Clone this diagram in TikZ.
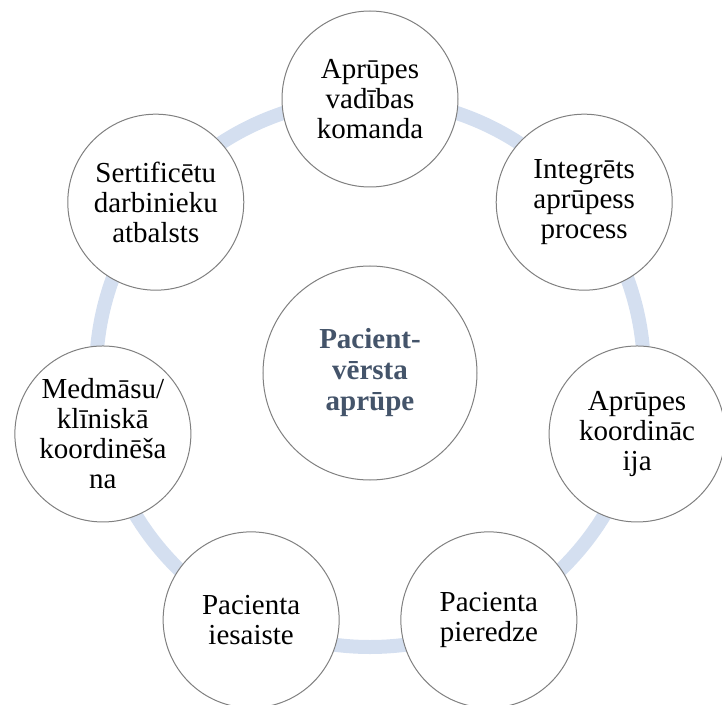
\documentclass[tikz,border=0pt]{standalone}
\usepackage{fontspec}
\setmainfont{Liberation Serif}
\definecolor{ringblue}{HTML}{D4DFF0}
\definecolor{edgegray}{HTML}{808080}
\definecolor{hubtext}{HTML}{44546A}
\begin{document}
\begin{tikzpicture}[x=1pt,y=1pt,
  petal/.style={circle, draw=edgegray, line width=1pt, fill=white,
    minimum size=176pt, inner sep=0pt, align=center,
    font=\fontsize{29}{30}\selectfont},
  hub/.style={circle, draw=edgegray, line width=1pt, fill=white,
    minimum size=214pt, inner sep=0pt, align=center,
    font=\fontsize{29}{31}\selectfont\bfseries, text=hubtext},
  cyclering/.style={draw=ringblue, line width=14pt}]
\useasboundingbox (-370,-331) rectangle (352,373);
% background ring linking the outer circles
\coordinate (c) at (0,0);
\draw[cyclering] (c) circle (274);
% central circle
\node[hub] (hub) at (c) {Pacient-\\vērsta\\aprūpe};
% outer circles, one every 360/7 degrees
\node[petal] (p1) at (90:274) {Aprūpes\\vadības\\komanda};
\node[petal] (p2) at (38.57:274) {Integrēts\\aprūpess\\process};
\node[petal] (p3) at (-12.86:274) {Aprūpes\\koordināc\\ija};
\node[petal] (p4) at (-64.29:274) {Pacienta\\pieredze};
\node[petal] (p5) at (-115.71:274) {Pacienta\\iesaiste};
\node[petal] (p6) at (-167.14:274) {Medmāsu/\\klīniskā\\koordinēša\\na};
\node[petal] (p7) at (141.43:274) {Sertificētu\\darbinieku\\atbalsts};
\end{tikzpicture}
\end{document}
